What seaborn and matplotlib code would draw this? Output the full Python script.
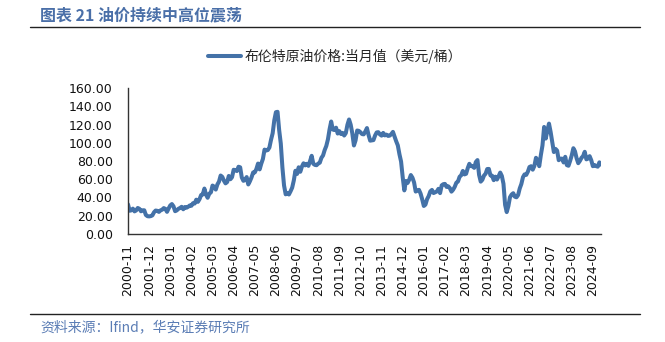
import matplotlib
matplotlib.use("Agg")
import matplotlib.pyplot as plt
from matplotlib.lines import Line2D
import seaborn as sns
import pandas as pd

# ---- data (monthly, 2000-11 .. 2025-02) ----
start_year, start_month = 2000, 11
brent = [
    32.5, 25.5,
    25.9, 27.8, 24.8, 25.8, 28.5, 27.6, 24.9, 26.0, 26.0, 20.8, 19.5, 19.3,
    19.6, 20.4, 23.8, 25.7, 25.4, 24.2, 25.9, 26.6, 28.4, 27.5, 24.3, 28.0,
    31.3, 32.8, 30.3, 25.0, 25.9, 27.6, 28.5, 29.8, 27.1, 29.6, 28.8, 29.8,
    31.3, 30.9, 33.8, 33.4, 37.6, 35.2, 38.2, 42.7, 43.3, 49.8, 43.1, 39.7,
    44.2, 45.6, 53.1, 51.9, 48.7, 54.3, 57.5, 64.1, 62.6, 58.5, 55.5, 56.9,
    63.6, 60.0, 62.3, 70.4, 70.0, 69.0, 73.7, 73.1, 62.0, 58.3, 59.1, 62.4,
    54.3, 57.8, 62.1, 67.5, 67.5, 71.3, 77.2, 70.8, 77.1, 82.3, 92.5, 91.5,
    92.0, 94.8, 103.3, 110.4, 124.6, 133.5, 133.9, 113.9, 99.1, 72.8, 53.2, 43.5,
    45.0, 43.3, 46.8, 50.8, 58.6, 69.3, 65.8, 73.1, 68.2, 73.9, 77.5, 75.2,
    76.9, 74.7, 79.9, 85.7, 77.0, 75.7, 75.4, 77.1, 78.2, 83.5, 86.1, 92.0,
    96.5, 103.7, 114.6, 123.3, 114.5, 113.9, 116.5, 110.1, 112.8, 109.6, 110.8, 107.9,
    110.6, 119.7, 125.5, 119.8, 110.3, 97.0, 102.6, 113.4, 113.0, 111.5, 109.5, 109.2,
    112.3, 116.1, 108.5, 102.3, 102.6, 102.9, 107.9, 111.3, 111.6, 109.1, 107.8, 110.8,
    108.1, 108.9, 107.5, 107.8, 109.5, 111.9, 106.8, 101.6, 97.1, 87.4, 79.4, 62.3,
    47.8, 58.1, 55.9, 59.5, 64.6, 61.7, 56.5, 46.5, 47.6, 48.4, 44.3, 38.0,
    30.7, 32.2, 38.2, 41.6, 46.7, 48.3, 44.9, 45.8, 46.6, 49.5, 44.8, 53.3,
    54.6, 54.9, 51.6, 52.3, 50.3, 46.4, 48.5, 51.7, 56.2, 57.5, 62.7, 64.4,
    69.1, 65.3, 66.0, 72.1, 76.9, 74.4, 74.3, 72.5, 78.9, 81.0, 64.8, 57.4,
    59.4, 64.0, 66.1, 71.2, 71.3, 64.2, 63.9, 59.0, 62.8, 59.7, 63.2, 67.3,
    63.6, 55.0, 32.0, 24.0, 30.5, 40.3, 43.2, 44.7, 40.9, 40.2, 42.7, 49.9,
    54.8, 62.3, 65.4, 64.8, 68.3, 73.4, 74.3, 70.5, 74.5, 83.5, 80.9, 74.3,
    86.5, 97.1, 117.3, 104.6, 113.3, 121.0, 111.9, 100.5, 89.8, 93.3, 91.4, 80.9,
    82.5, 82.6, 78.4, 84.6, 75.5, 74.8, 80.1, 86.2, 94.0, 90.6, 82.9, 77.6,
    80.1, 83.5, 85.4, 90.1, 81.8, 82.6, 85.3, 80.9, 74.3, 75.6, 74.4, 73.8,
    78.5, 76.0,
]
months = []
y, m = start_year, start_month
for _ in brent:
    months.append(f"{y}-{m:02d}")
    m += 1
    if m > 12:
        m = 1
        y += 1
tick_step = 13
y_ticks = [0, 20, 40, 60, 80, 100, 120, 140, 160]
series_name = "布伦特原油价格:当月值（美元/桶）"
title_text = "图表 21 油价持续中高位震荡"
source_text = "资料来源：Ifind，华安证券研究所"

df = pd.DataFrame({"idx": range(len(brent)), "month": months, "value": brent})

# ---- style ----
sns.set_theme(style="white")
plt.rcParams["font.family"] = ["DejaVu Sans", "Noto Sans CJK SC"]
cjk = ["Noto Sans CJK SC", "DejaVu Sans"]

W, H = 665, 342
fig = plt.figure(figsize=(W / 100, H / 100), dpi=100)
left, right, top, bottom = 128, 601, 88, 234
ax = fig.add_axes([left / W, 1 - bottom / H, (right - left) / W, (bottom - top) / H])

line_color = "#4472A8"
sns.lineplot(data=df, x="idx", y="value", ax=ax, color=line_color,
             linewidth=2.9, label=series_name, legend=False)

ax.set_xlim(0, len(brent) - 1)
ax.set_ylim(0, 160)
ax.set_yticks(y_ticks)
ax.set_yticklabels([f"{v:.2f}" for v in y_ticks], fontsize=9)
xt = list(range(0, len(brent), tick_step))
ax.set_xticks(xt)
ax.set_xticklabels([months[i] for i in xt], rotation=90, fontsize=9)
ax.set_xlabel("")
ax.set_ylabel("")
for s in ["top", "right"]:
    ax.spines[s].set_visible(False)
for s in ["left", "bottom"]:
    ax.spines[s].set_color("#333333")
    ax.spines[s].set_linewidth(1.0)
ax.tick_params(axis="both", which="both", direction="out", length=3, width=1,
               color="#333333", labelcolor="#111111")
ax.tick_params(axis="y", pad=8)
ax.tick_params(axis="x", pad=4)
ax.grid(False)

# legend
handle = Line2D([0], [0], color=line_color, linewidth=2.9)
fig.legend([handle], [series_name], loc="center", bbox_to_anchor=(335 / W, 1 - 56 / H),
           frameon=False, handlelength=2.4, handletextpad=0.3,
           prop={"family": cjk, "size": 10})

# title and rules
fig.text(40 / W, 1 - 15 / H, title_text, ha="left", va="center", fontsize=11.5,
         fontweight="bold", color="#4A6FA8", family=cjk)
fig.add_artist(Line2D([30 / W, 640 / W], [1 - 27 / H, 1 - 27 / H], color="#222222", linewidth=1.0))
fig.add_artist(Line2D([30 / W, 640 / W], [1 - 314 / H, 1 - 314 / H], color="#222222", linewidth=1.0))
fig.text(40 / W, 1 - 327 / H, source_text, ha="left", va="center", fontsize=10,
         color="#5B7DB5", family=cjk)

fig.savefig("out.png", dpi=100)
